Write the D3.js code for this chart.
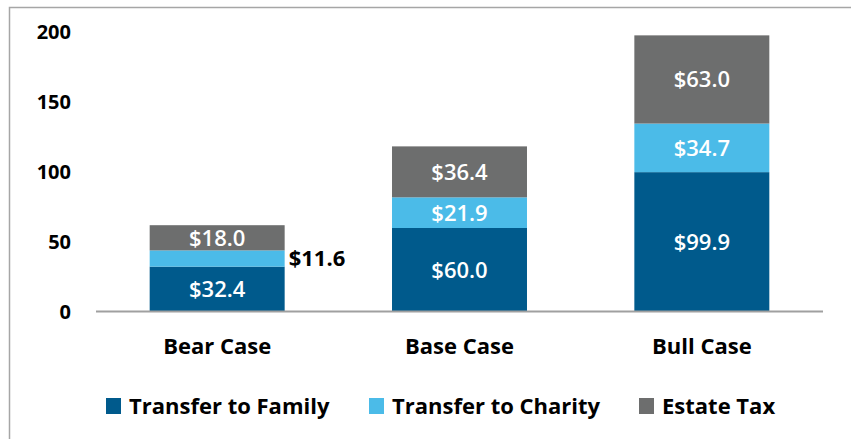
<!DOCTYPE html>
<html>
<head>
<meta charset="utf-8">
<script src="https://cdn.jsdelivr.net/npm/d3@7"></script>
<style>
  body { margin: 0; background: #fff; }
  svg { display: block; font-family: "Open Sans", Lato, sans-serif; }
</style>
</head>
<body>
<svg id="chart" width="851" height="439"></svg>
<script>
// chart data
const cases = ["Bear Case", "Base Case", "Bull Case"];
const family = [32.4, 60.0, 99.9];
const charity = [11.6, 21.9, 34.7];
const estateTax = [18.0, 36.4, 63.0];
const seriesNames = ["Transfer to Family", "Transfer to Charity", "Estate Tax"];
const yTicks = [0, 50, 100, 150, 200];

const colors = ["#005a8c", "#4bbbe8", "#6d6e6e"];

const svg = d3.select("#chart");

// outer frame
svg.append("rect")
    .attr("x", 9.5).attr("y", 7.5)
    .attr("width", 860).attr("height", 440)
    .attr("fill", "none")
    .attr("stroke", "#a6a6a6")
    .attr("stroke-width", 1.5);

const x = d3.scaleBand()
    .domain(cases)
    .range([96, 823])
    .paddingInner(0.443)
    .paddingOuter(0.2215);

const y = d3.scaleLinear().domain([0, 200]).range([312, 32]);

const rows = cases.map((c, i) => ({
    name: c,
    "Transfer to Family": family[i],
    "Transfer to Charity": charity[i],
    "Estate Tax": estateTax[i],
}));

const stack = d3.stack().keys(seriesNames);
const layers = stack(rows);

// y tick labels (no axis line)
svg.append("g")
    .selectAll("text")
    .data(yTicks)
    .enter()
    .append("text")
    .attr("x", 71)
    .attr("y", (d) => y(d))
    .attr("dy", "0.35em")
    .attr("text-anchor", "end")
    .attr("font-size", 20)
    .attr("font-weight", "bold")
    .attr("fill", "#000")
    .text((d) => d);

// bars
const groups = svg.append("g")
    .selectAll("g")
    .data(layers)
    .enter()
    .append("g")
    .attr("fill", (d, i) => colors[i]);

groups.selectAll("rect")
    .data((d) => d)
    .enter()
    .append("rect")
    .attr("x", (d) => x(d.data.name))
    .attr("width", x.bandwidth())
    .attr("y", (d) => y(d[1]))
    .attr("height", (d) => y(d[0]) - y(d[1]));

// value labels
layers.forEach((layer, si) => {
    layer.forEach((d) => {
        const v = d[1] - d[0];
        const h = y(d[0]) - y(d[1]);
        const inside = h > 18;
        svg.append("text")
            .attr("x", inside ? x(d.data.name) + x.bandwidth() / 2 : x(d.data.name) + x.bandwidth() + 4)
            .attr("y", (y(d[0]) + y(d[1])) / 2)
            .attr("dy", "0.36em")
            .attr("text-anchor", inside ? "middle" : "start")
            .attr("font-size", 22)
            .attr("font-weight", inside ? "600" : "bold")
            .attr("fill", inside ? "#fff" : "#000")
            .text("$" + v.toFixed(1));
    });
});

// baseline
svg.append("line")
    .attr("x1", 96).attr("x2", 823)
    .attr("y1", y(0) - 0.5).attr("y2", y(0) - 0.5)
    .attr("stroke", "#a0a0a0")
    .attr("stroke-width", 2);

// category labels
svg.append("g")
    .selectAll("text")
    .data(cases)
    .enter()
    .append("text")
    .attr("x", (d) => x(d) + x.bandwidth() / 2)
    .attr("y", 346)
    .attr("dy", "0.35em")
    .attr("text-anchor", "middle")
    .attr("font-size", 22)
    .attr("font-weight", "bold")
    .text((d) => d);

// legend
const legendX = [106, 369, 639];
const legend = svg.append("g")
    .selectAll("g")
    .data(seriesNames)
    .enter()
    .append("g")
    .attr("transform", (d, i) => `translate(${legendX[i]}, 406)`);

legend.append("rect")
    .attr("x", 0).attr("y", -8)
    .attr("width", 15).attr("height", 16)
    .attr("fill", (d, i) => colors[i]);

legend.append("text")
    .attr("x", 23)
    .attr("dy", "0.36em")
    .attr("font-size", 22)
    .attr("font-weight", "bold")
    .text((d) => d);
</script>
</body>
</html>
